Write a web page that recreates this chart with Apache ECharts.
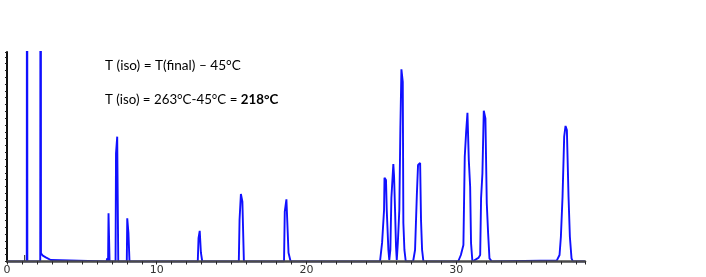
<!DOCTYPE html>
<html>
<head>
<meta charset="utf-8">
<script src="https://cdn.jsdelivr.net/npm/echarts@6/dist/echarts.min.js"></script>
<style>
html,body{margin:0;padding:0;background:#fff;}
#chart{width:706px;height:277px;}
</style>
</head>
<body>
<div id="chart"></div>
<script>
// Retention time (min) vs detector response (relative, 0-100 = plot top)
const solventPeaks = [
  [0, 0], [1.32, 0], [1.34, 400], [1.36, 0], [2.22, 0], [2.25, 400], [2.27, 3.9],
  [2.39, 2.8], [2.59, 2.0], [2.92, 0.7], [3.05, 0]
];
const earlyPeaks = [
  [6.64, 0], [6.70, 1.6], [6.75, 0], [6.78, 23.0], [6.82, 23.0], [6.85, 0],
  [7.25, 0], [7.28, 51.6], [7.33, 51.6], [7.36, 59.6], [7.40, 59.6], [7.43, 0],
  [8.00, 0], [8.03, 20.6], [8.08, 20.6], [8.11, 13.7], [8.15, 13.7], [8.18, 0]
];
const midPeaks = [
  [12.74, 0], [12.79, 11.1], [12.84, 11.1], [12.87, 14.6], [12.92, 14.6], [12.95, 4.2], [13.00, 4.2], [13.04, 0],
  [15.48, 0], [15.53, 19.8], [15.58, 19.8], [15.62, 32.2], [15.68, 32.2], [15.72, 28.5], [15.77, 28.5], [15.82, 0],
  [18.50, 0], [18.55, 23.8], [18.62, 23.8], [18.66, 29.7], [18.76, 29.7], [18.80, 4.2], [18.88, 4.2], [18.94, 0]
];
const clusterPeaks = [
  [24.91, 0], [25.05, 9.0], [25.18, 24.6], [25.21, 40.0], [25.31, 38.9], [25.36, 24.6], [25.47, 5.5], [25.53, 0.7],
  [25.60, 5.5], [25.67, 30.3], [25.80, 46.5], [25.85, 40.5], [25.92, 23.1], [25.98, 7.1], [26.03, 0.7],
  [26.10, 8.8], [26.20, 24.6], [26.27, 63.7], [26.34, 91.7], [26.43, 85.8], [26.47, 18.4], [26.54, 5.5], [26.63, 0],
  [27.12, 0], [27.25, 5.5], [27.37, 31.7], [27.45, 46.1], [27.59, 47.0], [27.65, 19.5], [27.72, 5.5], [27.81, 0]
];
const latePeaks = [
  [30.13, 0], [30.31, 3.1], [30.48, 7.9], [30.57, 50.0], [30.66, 61.5], [30.75, 71.0], [30.84, 48.4], [30.93, 35.7], [30.99, 8.8], [31.08, 0],
  [31.48, 1.7], [31.60, 3.1], [31.66, 30.2], [31.75, 42.1], [31.84, 72.0], [31.95, 68.3], [32.04, 27.8], [32.13, 13.5], [32.22, 1.5], [32.38, 0],
  [36.72, 0.5], [36.90, 3.1], [36.99, 11.8], [37.10, 30.9], [37.21, 59.6], [37.30, 64.7], [37.39, 62.8], [37.50, 30.9], [37.59, 11.8], [37.70, 1.5], [37.79, 0],
  [38.6, 0]
];
const eventMarker = [[1.18, 0], [1.18, 3.1]];
const xMax = 38.6;
const yMax = 100;
const yTickCount = 30.7;
const annotationLine1 = 'T (iso) = T(final) \u2013 45\u00B0C';
const annotationLine2a = 'T (iso) = 263\u00B0C-45\u00B0C = ';
const annotationLine2b = '218\u00B0C';

const trace = [].concat(solventPeaks, earlyPeaks, midPeaks, clusterPeaks, latePeaks);

const chart = echarts.init(document.getElementById('chart'), null, {renderer: 'canvas'});
const annFont = 'Lato, "Open Sans", sans-serif';
chart.setOption({
  animation: false,
  backgroundColor: '#fff',
  grid: {left: 7, right: 121, top: 52, bottom: 15.5, containLabel: false},
  xAxis: {
    type: 'value', min: 0, max: xMax, interval: 1, z: 5,
    axisLine: {show: true, onZero: false, lineStyle: {color: '#4a4a4a', width: 2.5}},
    axisTick: {show: true, inside: false, length: 3, lineStyle: {color: '#222', width: 1}},
    axisLabel: {
      show: true, margin: 3, color: '#333', fontSize: 11, fontFamily: '"DejaVu Sans", sans-serif',
      formatter: function (v) { return (Math.abs(v % 10) < 1e-6) ? String(Math.round(v)) : ''; }
    },
    splitLine: {show: false}
  },
  yAxis: {
    type: 'value', min: 0, max: yMax, interval: yMax / yTickCount, z: 5,
    axisLine: {show: true, lineStyle: {color: '#111', width: 2}},
    axisTick: {show: true, inside: false, length: 2, lineStyle: {color: '#222', width: 1}},
    axisLabel: {show: false},
    splitLine: {show: false}
  },
  series: [
    {
      type: 'line', data: trace, showSymbol: false, symbol: 'none', clip: true,
      lineStyle: {color: '#1010ff', width: 1.9}, z: 2
    },
    {
      type: 'line', data: eventMarker, showSymbol: false, symbol: 'none',
      lineStyle: {color: '#222', width: 1}, z: 3
    }
  ],
  graphic: [
    {
      type: 'text', left: 105, top: 59, z: 10,
      style: {text: annotationLine1, fill: '#000', font: '13.6px ' + annFont}
    },
    {
      type: 'text', left: 105, top: 93, z: 10,
      style: {
        text: '{n|' + annotationLine2a + '}{b|' + annotationLine2b + '}',
        fill: '#000',
        rich: {
          n: {fontSize: 13.3, fontFamily: annFont, fill: '#000'},
          b: {fontSize: 13.3, fontFamily: annFont, fontWeight: 'bold', fill: '#000'}
        }
      }
    }
  ]
});
</script>
</body>
</html>
